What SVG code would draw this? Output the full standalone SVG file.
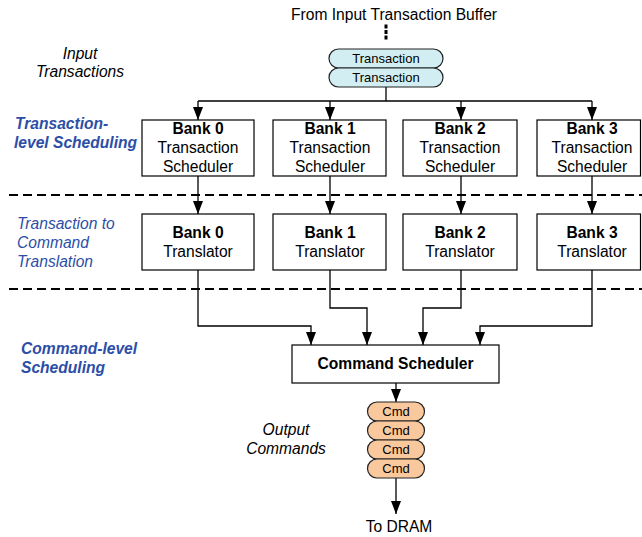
<svg xmlns="http://www.w3.org/2000/svg" width="642" height="537" viewBox="0 0 642 537">
  <defs>
    <marker id="arrow" markerUnits="userSpaceOnUse" markerWidth="10" markerHeight="14" refX="5" refY="13" orient="0" viewBox="0 0 10 14">
      <path d="M0,0 L10,0 L5,13 Z" fill="#000"/>
    </marker>
    <style>
      text { font-family: "Liberation Sans", Arial, sans-serif; font-size: 15.6px; fill: #000; }
      .c { text-anchor: middle; }
      .b { font-weight: bold; }
      .it { font-style: italic; }
      .blue { fill: #2c4ea6; }
      .small { font-size: 13px; }
      .box { fill: #fff; stroke: #000; stroke-width: 1.2; }
      .pill-t { fill: #d3eef2; stroke: #222; stroke-width: 1.2; }
      .pill-c { fill: #f9c99d; stroke: #222; stroke-width: 1.2; }
      .wire { fill: none; stroke: #000; stroke-width: 1.3; }
      .dash { fill: none; stroke: #000; stroke-width: 2; stroke-dasharray: 9 5; }
    </style>
  </defs>
  <rect width="642" height="537" fill="#fff"/>

  <!-- phase separators -->
  <g id="separators">
    <line class="dash" x1="9" y1="195" x2="642" y2="195"/>
    <line class="dash" x1="9" y1="289" x2="642" y2="289"/>
  </g>

  <!-- side labels -->
  <g id="labels">
    <text class="c it" x="80" y="59">Input</text>
    <text class="c it" x="80" y="77">Transactions</text>
    <text class="b it blue" x="15" y="128.5">Transaction-</text>
    <text class="b it blue" x="14" y="147.5">level Scheduling</text>
    <text class="it blue" x="17" y="229">Transaction to</text>
    <text class="it blue" x="17" y="248">Command</text>
    <text class="it blue" x="17" y="267">Translation</text>
    <text class="b it blue" x="21" y="354">Command-level</text>
    <text class="b it blue" x="21" y="373">Scheduling</text>
    <text class="c it" x="286" y="435">Output</text>
    <text class="c it" x="286" y="453.5">Commands</text>
    <text class="c" x="394" y="20">From Input Transaction Buffer</text>
    <text class="c" x="399" y="531.5">To DRAM</text>
  </g>

  <!-- connectors -->
  <g id="connectors">
    <g fill="#000">
      <rect x="384.5" y="24.5" width="3" height="4"/>
      <rect x="384.5" y="30" width="3" height="4"/>
      <rect x="384.5" y="35.5" width="3" height="4"/>
    </g>
    <path class="wire" d="M386,87 V101"/>
    <path class="wire" d="M198,101 H592"/>
    <path class="wire" d="M198,101 V120" marker-end="url(#arrow)"/>
    <path class="wire" d="M330,101 V120" marker-end="url(#arrow)"/>
    <path class="wire" d="M461,101 V120" marker-end="url(#arrow)"/>
    <path class="wire" d="M592,101 V120" marker-end="url(#arrow)"/>
    <path class="wire" d="M198,176 V214" marker-end="url(#arrow)"/>
    <path class="wire" d="M330,176 V214" marker-end="url(#arrow)"/>
    <path class="wire" d="M461,176 V214" marker-end="url(#arrow)"/>
    <path class="wire" d="M592,176 V214" marker-end="url(#arrow)"/>
    <path class="wire" d="M198,270 V326 H311 V345" marker-end="url(#arrow)"/>
    <path class="wire" d="M330,270 V308 H367 V345" marker-end="url(#arrow)"/>
    <path class="wire" d="M461,270 V308 H423 V345" marker-end="url(#arrow)"/>
    <path class="wire" d="M592,270 V326 H480 V345" marker-end="url(#arrow)"/>
    <path class="wire" d="M396,383 V402" marker-end="url(#arrow)"/>
    <path class="wire" d="M396,478 V514" marker-end="url(#arrow)"/>
  </g>

  <!-- incoming transaction queue -->
  <g id="transaction-queue">
    <rect class="pill-t" x="329" y="49" width="114" height="19" rx="9.5"/>
    <text class="c small" x="386" y="63.3">Transaction</text>
    <rect class="pill-t" x="329" y="68" width="114" height="19" rx="9.5"/>
    <text class="c small" x="386" y="82.3">Transaction</text>
  </g>

  <!-- per-bank transaction schedulers -->
  <g id="bank0-scheduler">
    <rect class="box" x="142" y="120" width="112" height="56"/>
    <text class="c b" x="198" y="134">Bank 0</text>
    <text class="c" x="198" y="153">Transaction</text>
    <text class="c" x="198" y="172">Scheduler</text>
  </g>
  <g id="bank1-scheduler">
    <rect class="box" x="273" y="120" width="113" height="56"/>
    <text class="c b" x="330" y="134">Bank 1</text>
    <text class="c" x="330" y="153">Transaction</text>
    <text class="c" x="330" y="172">Scheduler</text>
  </g>
  <g id="bank2-scheduler">
    <rect class="box" x="403" y="120" width="114" height="56"/>
    <text class="c b" x="460" y="134">Bank 2</text>
    <text class="c" x="460" y="153">Transaction</text>
    <text class="c" x="460" y="172">Scheduler</text>
  </g>
  <g id="bank3-scheduler">
    <rect class="box" x="537" y="120" width="103.5" height="56"/>
    <text class="c b" x="592" y="134">Bank 3</text>
    <text class="c" x="592" y="153">Transaction</text>
    <text class="c" x="592" y="172">Scheduler</text>
  </g>

  <!-- per-bank translators -->
  <g id="bank0-translator">
    <rect class="box" x="142" y="214" width="112" height="56"/>
    <text class="c b" x="198" y="237.5">Bank 0</text>
    <text class="c" x="198" y="256.5">Translator</text>
  </g>
  <g id="bank1-translator">
    <rect class="box" x="273" y="214" width="113" height="56"/>
    <text class="c b" x="330" y="237.5">Bank 1</text>
    <text class="c" x="330" y="256.5">Translator</text>
  </g>
  <g id="bank2-translator">
    <rect class="box" x="403" y="214" width="114" height="56"/>
    <text class="c b" x="460" y="237.5">Bank 2</text>
    <text class="c" x="460" y="256.5">Translator</text>
  </g>
  <g id="bank3-translator">
    <rect class="box" x="537" y="214" width="103.5" height="56"/>
    <text class="c b" x="592" y="237.5">Bank 3</text>
    <text class="c" x="592" y="256.5">Translator</text>
  </g>

  <!-- command scheduler -->
  <g id="command-scheduler">
    <rect class="box" x="292" y="345" width="207" height="38"/>
    <text class="c b" x="395.5" y="368.5">Command Scheduler</text>
  </g>

  <!-- outgoing command queue -->
  <g id="command-queue">
    <rect class="pill-c" x="367.5" y="402" width="57" height="19" rx="9.5"/>
    <text class="c small" x="396" y="416">Cmd</text>
    <rect class="pill-c" x="367.5" y="421" width="57" height="19" rx="9.5"/>
    <text class="c small" x="396" y="435">Cmd</text>
    <rect class="pill-c" x="367.5" y="440" width="57" height="19" rx="9.5"/>
    <text class="c small" x="396" y="454">Cmd</text>
    <rect class="pill-c" x="367.5" y="459" width="57" height="19" rx="9.5"/>
    <text class="c small" x="396" y="473">Cmd</text>
  </g>
</svg>
